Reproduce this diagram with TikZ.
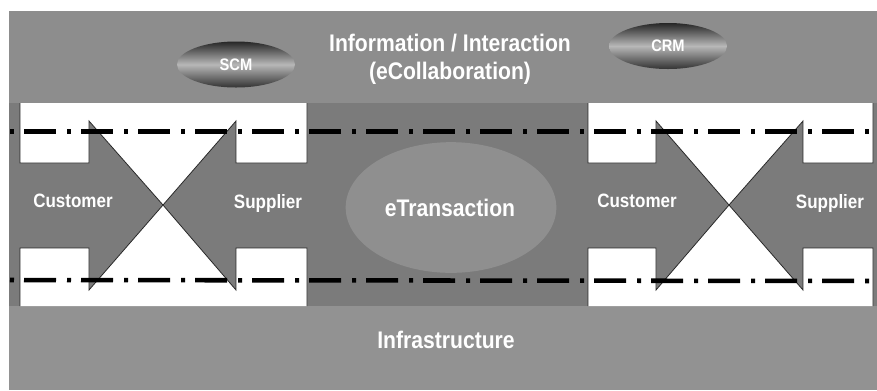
\documentclass[tikz,border=0pt]{standalone}
\usepackage{fontspec}
\setmainfont{Liberation Sans}[FakeStretch=0.88]
\usetikzlibrary{shapes.geometric}
\definecolor{bandtop}{RGB}{141,141,141}
\definecolor{bandmid}{RGB}{123,123,123}
\definecolor{bandbot}{RGB}{146,146,146}
\definecolor{ovalfill}{RGB}{143,143,143}
\tikzset{
  lbl/.style={text=white, font=\bfseries\fontsize{14.5}{17}\selectfont, inner sep=0pt},
  biglbl/.style={text=white, font=\bfseries\fontsize{18}{21}\selectfont, inner sep=0pt, align=center},
  smalllbl/.style={text=white, font=\bfseries\fontsize{12.5}{14}\selectfont, inner sep=0pt},
  whitebox/.style={fill=white},
  edge/.style={draw=black!85, line width=0.6pt},
  dashdot/.style={line width=3.4pt, dash pattern=on 3pt off 7.5pt on 24pt off 8.25pt},
  pill/.style={ellipse, minimum width=88.5pt, minimum height=34.5pt, inner sep=0pt,
    top color=black!85, bottom color=black!80, middle color=black!28, shading angle=0}
}
\begin{document}
\begin{tikzpicture}[x=0.75pt, y=-0.75pt]
\useasboundingbox (0,0) rectangle (877,390);
% three horizontal layers
\fill[bandtop] (9,11) rectangle (877,103);
\fill[bandmid] (9,103) rectangle (877,306);
\fill[bandbot] (9,306) rectangle (877,390);

% white space around each pair of opposed arrows
\foreach \xa/\xb/\xc/\xd/\xe in {20/89/163/236/307, 588/656/729/803/873}{
  \fill[whitebox] (\xa,103) -- (\xe,103) -- (\xe,163) -- (\xd,163) -- (\xd,121)
    -- (\xc,205) -- (\xb,121) -- (\xb,163) -- (\xa,163) -- cycle;
  \draw[edge] (\xa,103) -- (\xa,163) -- (\xb,163) -- (\xb,121) -- (\xc,205)
    -- (\xd,121) -- (\xd,163) -- (\xe,163) -- (\xe,103);
  \fill[whitebox] (\xa,306) -- (\xe,306) -- (\xe,248) -- (\xd,248) -- (\xd,290)
    -- (\xc,205) -- (\xb,290) -- (\xb,248) -- (\xa,248) -- cycle;
  \draw[edge] (\xa,306) -- (\xa,248) -- (\xb,248) -- (\xb,290) -- (\xc,205)
    -- (\xd,290) -- (\xd,248) -- (\xe,248) -- (\xe,306);
}

% central transaction oval
\node[ellipse, fill=ovalfill, minimum width=158pt, minimum height=98pt, inner sep=0pt]
  (etrans) at (451,207.5) {};
\node[biglbl] (etranstxt) at (450,208) {eTransaction};

% dash-dot boundary lines
\coordinate (ltop) at (10,131.5);
\coordinate (rtop) at (877,131.5);
\coordinate (lbot) at (10,280);
\coordinate (rbot) at (877,281);
\draw[dashdot] (ltop) -- (rtop);
\draw[dashdot] (lbot) -- (rbot);

% shaded pills
\node[pill] (scm) at (236,64.5) {};
\node[smalllbl] at (scm) {SCM};
\node[pill] (crm) at (668,46) {};
\node[smalllbl] at (crm) {CRM};

% layer titles
\node[biglbl] (info) at (450,59) {Information / Interaction\\(eCollaboration)};
\node[biglbl] (infra) at (446,340) {Infrastructure};

% arrow labels
\node[lbl] (cust1) at (73,201) {Customer};
\node[lbl] (supp1) at (268,203) {Supplier};
\node[lbl] (cust2) at (637,201) {Customer};
\node[lbl] (supp2) at (830,203) {Supplier};
\end{tikzpicture}
\end{document}
